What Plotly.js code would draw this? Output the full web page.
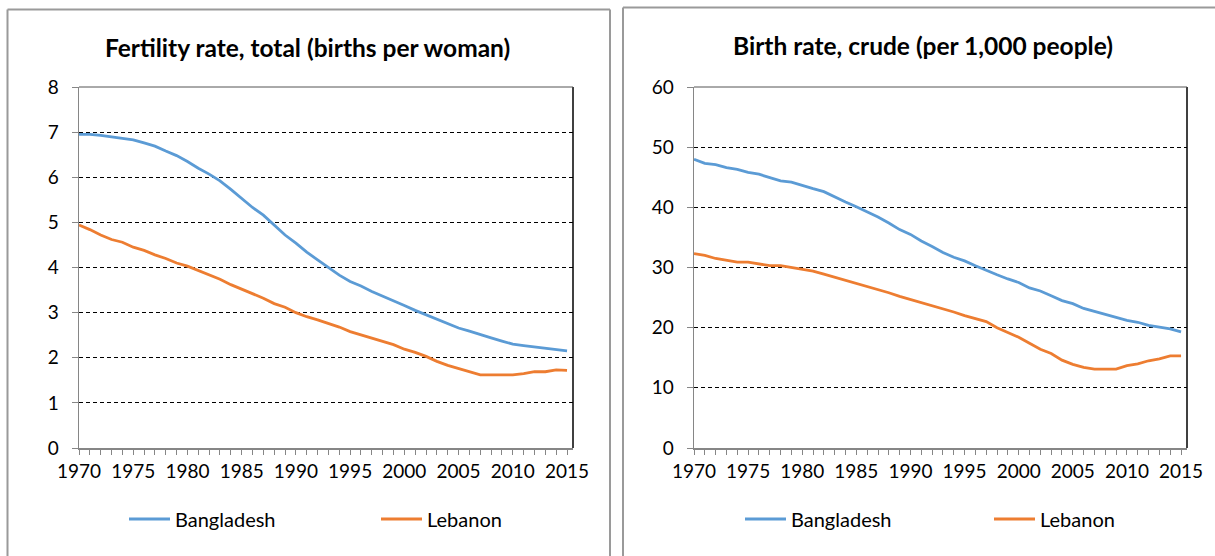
<!DOCTYPE html>
<html>
<head>
<meta charset="utf-8">
<script src="https://cdn.plot.ly/plotly-3.0.1.min.js"></script>
<style>html,body{margin:0;padding:0;background:#fff;}#chart{width:1215px;height:556px;}</style>
</head>
<body>
<div id="chart"></div>
<script>
const years = [1970,1971,1972,1973,1974,1975,1976,1977,1978,1979,1980,1981,1982,1983,1984,1985,1986,1987,1988,1989,1990,1991,1992,1993,1994,1995,1996,1997,1998,1999,2000,2001,2002,2003,2004,2005,2006,2007,2008,2009,2010,2011,2012,2013,2014,2015];

const fertilityBangladesh = [6.95,6.95,6.93,6.90,6.87,6.83,6.76,6.69,6.58,6.48,6.35,6.20,6.07,5.92,5.73,5.53,5.33,5.16,4.93,4.72,4.54,4.34,4.17,3.99,3.83,3.69,3.59,3.47,3.37,3.27,3.16,3.05,2.95,2.86,2.76,2.66,2.59,2.51,2.44,2.37,2.30,2.27,2.24,2.21,2.18,2.15];
const fertilityLebanon = [4.94,4.84,4.72,4.62,4.56,4.45,4.38,4.28,4.20,4.10,4.03,3.93,3.83,3.74,3.62,3.52,3.42,3.32,3.20,3.12,3.00,2.91,2.84,2.76,2.68,2.58,2.51,2.43,2.36,2.29,2.19,2.12,2.03,1.92,1.83,1.76,1.70,1.62,1.62,1.62,1.62,1.65,1.69,1.69,1.73,1.72];

const birthBangladesh = [48.0,47.3,47.1,46.6,46.3,45.8,45.5,44.9,44.4,44.2,43.6,43.1,42.6,41.7,40.9,40.1,39.3,38.4,37.4,36.3,35.5,34.4,33.5,32.5,31.7,31.1,30.3,29.5,28.8,28.1,27.5,26.6,26.1,25.3,24.5,24.0,23.2,22.7,22.2,21.7,21.2,20.9,20.4,20.1,19.8,19.3];
const birthLebanon = [32.3,32.0,31.5,31.2,30.9,30.9,30.6,30.3,30.3,30.0,29.7,29.4,28.9,28.4,27.9,27.4,26.8,26.3,25.8,25.2,24.7,24.2,23.6,23.1,22.6,22.0,21.5,21.0,20.0,19.2,18.4,17.4,16.4,15.7,14.6,13.9,13.4,13.1,13.1,13.1,13.7,14.0,14.5,14.8,15.3,15.3];

const seriesNames = ["Bangladesh","Lebanon"];
const titles = ["Fertility rate, total (births per woman)","Birth rate, crude (per 1,000 people)"];

const W = 1215, H = 556;
const FONT = "Lato, 'Open Sans', sans-serif";
const blue = "#5B9BD5", orange = "#ED7D31";
const px = v => v / W;
const py = v => (H - v) / H;
const TICK = 19, LEG = 20, TITLE = 24.5;
const ITEMW = 41;

const traces = [
  {x: years, y: fertilityBangladesh, name: seriesNames[0], xaxis:'x', yaxis:'y', legend:'legend', type:'scatter', mode:'lines', line:{color:blue, width:2.8}},
  {x: years, y: fertilityLebanon, name: seriesNames[1], xaxis:'x', yaxis:'y', legend:'legend2', type:'scatter', mode:'lines', line:{color:orange, width:2.8}},
  {x: years, y: birthBangladesh, name: seriesNames[0], xaxis:'x2', yaxis:'y2', legend:'legend3', type:'scatter', mode:'lines', line:{color:blue, width:2.8}},
  {x: years, y: birthLebanon, name: seriesNames[1], xaxis:'x2', yaxis:'y2', legend:'legend4', type:'scatter', mode:'lines', line:{color:orange, width:2.8}}
];

function xax(domain, anchor){
  return {
    domain: domain, anchor: anchor, range: [1970, 2015.55], dtick: 5, tick0: 1970,
    showgrid: false, zeroline: false, showline: true, linecolor: '#868686', linewidth: 1.5,
    ticks: 'outside', ticklen: 5, tickcolor: '#868686', tickwidth: 1,
    minor: {dtick: 1, ticks: 'outside', ticklen: 5, tickcolor: '#868686', tickwidth: 1, showgrid: false},
    tickfont: {family: FONT, size: TICK, color: '#000'}, ticklabelstandoff: 1, fixedrange: true
  };
}
function yax(domain, anchor, max, dt){
  return {
    domain: domain, anchor: anchor, range: [0, max], dtick: dt,
    showgrid: true, gridcolor: '#000', gridwidth: 1, griddash: '4px,3px',
    zeroline: false, showline: true, linecolor: '#868686', linewidth: 1.5,
    ticks: 'outside', ticklen: 6, tickcolor: '#868686', tickwidth: 1,
    tickfont: {family: FONT, size: TICK, color: '#000'}, ticklabelstandoff: 9, fixedrange: true
  };
}
// textStart: pixel where the legend label text begins
function leg(textStart){
  return {orientation:'h', x: px(textStart - (ITEMW + 10)), y: py(519), xanchor:'left', yanchor:'middle',
    itemwidth: ITEMW,
    font:{family:FONT, size:LEG, color:'#000'}, bgcolor:'rgba(0,0,0,0)', borderwidth:0};
}

const yDom = [py(448), py(87)];
const frameLine = {color:'#9a9a9a', width:2};

const layout = {
  width: W, height: H,
  margin: {l:0, r:0, t:0, b:0},
  paper_bgcolor: '#fff', plot_bgcolor: '#fff',
  showlegend: true,
  xaxis: xax([px(79), px(573)], 'y'),
  yaxis: yax(yDom, 'x', 8, 1),
  xaxis2: xax([px(694), px(1187)], 'y2'),
  yaxis2: yax(yDom, 'x2', 60, 10),
  legend: leg(175),
  legend2: leg(427),
  legend3: leg(791),
  legend4: leg(1040),
  annotations: [
    {text: '<b>' + titles[0] + '</b>', xref:'paper', yref:'paper', x: px(307), y: py(47), xanchor:'center', yanchor:'middle', showarrow:false, font:{family:FONT, size:TITLE, color:'#000'}},
    {text: '<b>' + titles[1] + '</b>', xref:'paper', yref:'paper', x: px(923), y: py(45), xanchor:'center', yanchor:'middle', showarrow:false, font:{family:FONT, size:TITLE, color:'#000'}}
  ],
  shapes: [
    {type:'line', xref:'paper', yref:'paper', x0: px(7.5), x1: px(7.5), y0: 0, y1: py(9.5), line:frameLine, layer:'below'},
    {type:'line', xref:'paper', yref:'paper', x0: px(7.5), x1: px(610), y0: py(9.5), y1: py(9.5), line:frameLine, layer:'below'},
    {type:'line', xref:'paper', yref:'paper', x0: px(610), x1: px(610), y0: 0, y1: py(9.5), line:frameLine, layer:'below'},
    {type:'line', xref:'paper', yref:'paper', x0: px(623), x1: px(623), y0: 0, y1: py(7.5), line:frameLine, layer:'below'},
    {type:'line', xref:'paper', yref:'paper', x0: px(623), x1: 1, y0: py(7.5), y1: py(7.5), line:frameLine, layer:'below'},
    {type:'line', xref:'x domain', yref:'y domain', x0:1, x1:1, y0:0, y1:1, line:{color:'#000', width:1.5}},
    {type:'line', xref:'x domain', yref:'y domain', x0:0, x1:1, y0:1, y1:1, line:{color:'#555', width:1}},
    {type:'line', xref:'x2 domain', yref:'y2 domain', x0:1, x1:1, y0:0, y1:1, line:{color:'#000', width:1.5}},
    {type:'line', xref:'x2 domain', yref:'y2 domain', x0:0, x1:1, y0:1, y1:1, line:{color:'#555', width:1}}
  ]
};

Plotly.newPlot('chart', traces, layout, {displayModeBar:false, staticPlot:true});
</script>
</body>
</html>
